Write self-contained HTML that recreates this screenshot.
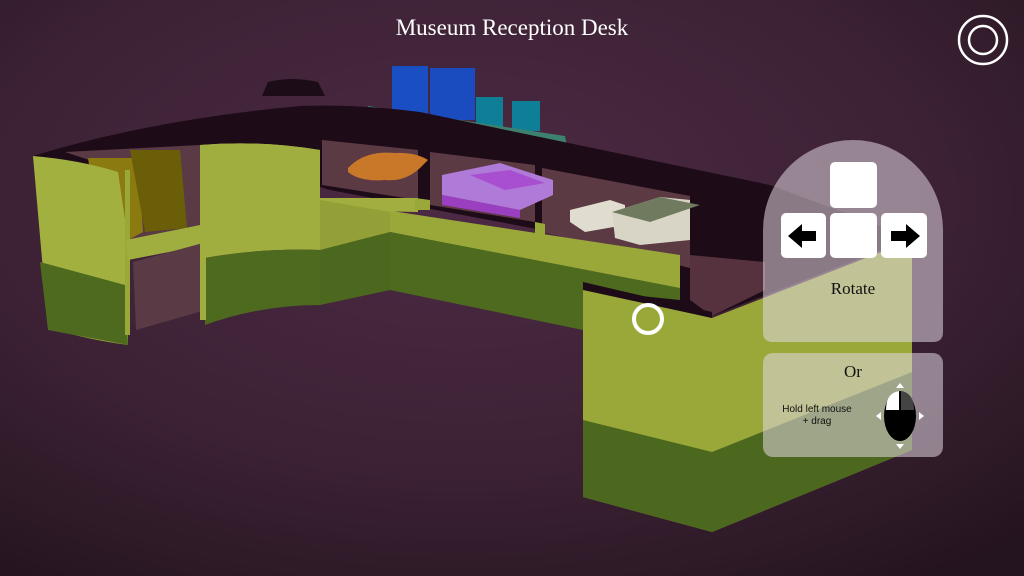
<!DOCTYPE html>
<html><head><meta charset="utf-8"><style>
html,body{margin:0;padding:0;width:1024px;height:576px;overflow:hidden;background:#3a2131}
svg{display:block}
</style></head><body>
<svg width="1024" height="576" viewBox="0 0 1024 576" xmlns="http://www.w3.org/2000/svg">
<defs>
<radialGradient id="bg" cx="0.45" cy="0.35" r="0.8">
<stop offset="0" stop-color="#4d2a44"/><stop offset="0.6" stop-color="#3b2133"/><stop offset="1" stop-color="#24141f"/>
</radialGradient>
</defs>
<rect width="1024" height="576" fill="url(#bg)"/>
<!-- black blob -->
<path d="M262,96 L268,82 Q292,76 318,82 L325,96 Z" fill="#1c0c17"/>
<!-- books -->
<rect x="392" y="66" width="36" height="50" fill="#1a4fc4"/>
<rect x="430" y="68" width="45" height="52" fill="#1a4cc0"/>
<rect x="476" y="97" width="27" height="30" fill="#0f7f98"/>
<rect x="512" y="101" width="28" height="30" fill="#0f7f98"/>
<!-- shelf -->
<polygon points="368,106 565,136 568,152 368,120" fill="#3e8070"/>
<!-- desk top dark -->
<path d="M33,156 Q150,120 300,106 Q360,104 420,112 L770,185 L912,238 L712,316 L583,288 L583,282 L690,258 L330,190 L200,150 L60,175 Z" fill="#1e0b18"/>
<!-- compartments -->
<polygon points="322,140 418,150 418,200 322,185" fill="#5c3a44"/>
<polygon points="430,152 535,165 535,222 430,205" fill="#5c3a44"/>
<polygon points="542,168 690,196 690,268 542,232" fill="#5c3a44"/>
<polygon points="690,255 765,262 765,290 712,316 690,300" fill="#55323d"/>
<!-- left cubbies interior -->
<polygon points="65,152 200,145 200,228 127,240 125,172" fill="#5a3a44"/>
<!-- binders -->
<polygon points="88,158 138,158 143,232 128,240 100,240" fill="#8a7a10"/>
<polygon points="130,150 180,150 187,228 145,232" fill="#6b5e08"/>
<!-- artifact -->
<path d="M348,168 Q365,150 395,153 Q415,152 428,160 L420,168 Q405,182 385,180 Q360,182 348,172 Z" fill="#c9782a"/>
<!-- purple book -->
<polygon points="442,175 500,163 553,180 553,195 520,210 442,195" fill="#b07ad8"/>
<polygon points="442,195 520,210 520,218 442,205" fill="#9a3fc0"/>
<polygon points="470,175 510,170 545,183 505,190" fill="#a84fd0"/>
<!-- small books right -->
<polygon points="570,210 610,200 625,205 625,225 585,232 570,222" fill="#e0ddd0"/>
<polygon points="612,212 660,197 690,200 690,240 640,245 615,238" fill="#d8d5c6"/>
<polygon points="612,212 660,197 700,205 650,222" fill="#6f7a5f"/>
<!-- main desk front lime -->
<path d="M200,145 Q260,140 320,150 L320,200 L680,255 L680,275 L320,210 Z" fill="#9aa83a"/>
<polygon points="320,198 418,198 418,212 320,210" fill="#a3ae40"/>
<polygon points="415,198 430,200 430,210 415,210" fill="#9aa83a"/>
<polygon points="535,222 545,224 545,235 535,234" fill="#9aa83a"/>
<path d="M200,145 Q260,140 320,150 L320,250 Q260,248 205,258 Z" fill="#a0ae40"/>
<polygon points="320,200 390,212 390,250 320,250" fill="#939f37"/>
<polygon points="390,212 680,260 680,290 390,232" fill="#9aa83a"/>
<polygon points="390,232 680,288 680,300 583,290 583,330 390,290" fill="#4e6a1f"/>
<polygon points="320,250 390,232 390,290 320,305" fill="#4c681e"/>
<path d="M205,258 Q260,248 320,250 L320,305 Q260,305 205,325 Z" fill="#4e6a1f"/>
<!-- left block -->
<path d="M33,156 Q80,160 118,172 L128,240 L128,345 Q90,340 48,328 Z" fill="#a2b040"/>
<polygon points="40,262 125,285 128,345 48,330" fill="#4e6a1f"/>
<!-- cubby frame -->
<polygon points="125,170 130,170 130,335 125,335" fill="#9aa83a"/>
<polygon points="126,240 205,224 205,245 128,260" fill="#a0ae40"/>
<polygon points="133,262 203,243 206,310 136,330" fill="#5a3a44"/>
<polygon points="200,145 206,145 206,320 200,320" fill="#a0ae40"/>
<!-- right wing -->
<polygon points="583,288 712,318 712,532 583,497" fill="#9aa83a"/>
<polygon points="583,420 712,452 712,532 583,497" fill="#4c681e"/>
<polygon points="712,318 912,240 912,450 712,532" fill="#9aa83a"/>
<polygon points="712,452 912,372 912,450 712,532" fill="#4c681e"/>
<polygon points="583,282 712,312 712,318 583,290" fill="#1e0b18"/>
<!-- cursor circle -->
<circle cx="648" cy="319" r="14" fill="none" stroke="#fff" stroke-width="4"/>
<!-- overlay panels -->
<path d="M763,230 A90,90 0 0 1 943,230 L943,332 Q943,342 933,342 L773,342 Q763,342 763,332 Z" fill="rgba(225,215,225,0.55)"/>
<rect x="763" y="353" width="180" height="104" rx="10" fill="rgba(225,215,225,0.55)"/>
<rect x="830" y="162" width="47" height="46" rx="5" fill="#fff"/>
<rect x="781" y="213" width="45" height="45" rx="5" fill="#fff"/>
<rect x="830" y="213" width="47" height="45" rx="5" fill="#fff"/>
<rect x="881" y="213" width="46" height="45" rx="5" fill="#fff"/>
<polygon points="788,236 802,224 802,231 816,231 816,241 802,241 802,248" fill="#000"/>
<polygon points="920,236 906,224 906,231 891,231 891,241 906,241 906,248" fill="#000"/>
<text x="853" y="294" font-family="Liberation Serif, serif" font-size="17" text-anchor="middle" fill="#111">Rotate</text>
<text x="853" y="377" font-family="Liberation Serif, serif" font-size="17" text-anchor="middle" fill="#111">Or</text>
<text x="817" y="412" font-family="Liberation Sans, sans-serif" font-size="10" text-anchor="middle" fill="#111">Hold left mouse</text>
<text x="817" y="424" font-family="Liberation Sans, sans-serif" font-size="10" text-anchor="middle" fill="#111">+ drag</text>
<ellipse cx="900" cy="416" rx="16" ry="25" fill="#000"/>
<path d="M886,410 Q886,393 899,391 L899,410 Z" fill="#fff"/>
<path d="M901,410 L901,391 Q914,393 914,410 Z" fill="#444"/>
<polygon points="900,383 904,388 896,388" fill="#fff"/>
<polygon points="900,449 904,444 896,444" fill="#fff"/>
<polygon points="876,416 881,412 881,420" fill="#fff"/>
<polygon points="924,416 919,412 919,420" fill="#fff"/>
<!-- title -->
<text x="512" y="35" font-family="Liberation Serif, serif" font-size="23" text-anchor="middle" fill="#fff">Museum Reception Desk</text>
<circle cx="983" cy="40" r="24" fill="none" stroke="#fff" stroke-width="2.5"/>
<circle cx="983" cy="40" r="14" fill="none" stroke="#fff" stroke-width="2.5"/>
</svg>
</body></html>
